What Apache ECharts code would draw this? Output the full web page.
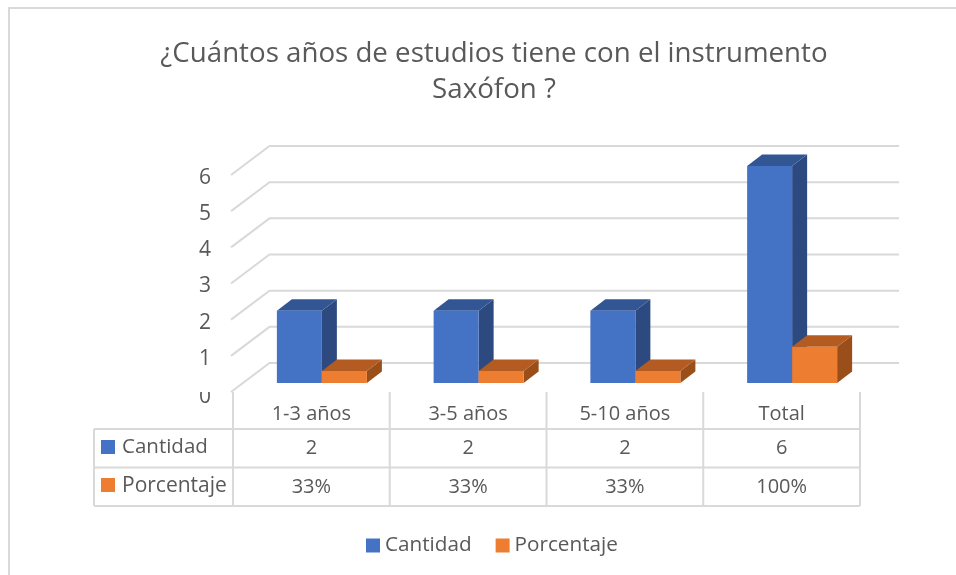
<!DOCTYPE html>
<html>
<head>
<meta charset="utf-8">
<style>html,body{margin:0;background:#fff}#main{width:956px;height:575px}</style>
<script src="https://cdn.jsdelivr.net/npm/echarts@6/dist/echarts.min.js"></script>
</head>
<body>
<div id="main"></div>
<script>
var categories = ['1-3 años', '3-5 años', '5-10 años', 'Total'];
var cantidad = [2, 2, 2, 6];
var porcentaje = [0.33, 0.33, 0.33, 1];
var porcentajeLabels = ['33%', '33%', '33%', '100%'];
var gridValues = [0, 1, 2, 3, 4, 5, 6];

var FONT = '"Open Sans"';
var TEXT = '#595959';
var LINE = '#d9d9d9';
var BLUE = {front: '#4472c4', side: '#2c4a80', top: '#325594'};
var ORANGE = {front: '#ed7d31', side: '#9a4f1a', top: '#b35b20'};

// caida de la pared del fondo respecto al plano del eje
var DEPTH_X = 39, DEPTH_Y = 29;
// desplazamiento de las barras dentro del piso y su profundidad
var BAR_X = 10.5, BAR_Y = 9, BAR_W = 45, BAR_DX = 15, BAR_DY = 11.5;

function poly(points, color) {
  return {type: 'polygon', shape: {points: points}, style: {fill: color}};
}

// barra 3d: cara frontal, cara superior y lateral
function barItem(colors, side) {
  return function (params, api) {
    var i = api.value(0);
    var base = api.coord([i, 0]);
    var top = api.coord([i, api.value(1)]);
    var x0 = base[0] + BAR_X + (side < 0 ? -BAR_W : 0);
    var x1 = x0 + BAR_W;
    var y0 = base[1] - BAR_Y;
    var y1 = top[1] - BAR_Y;
    return {type: 'group', children: [
      poly([[x1, y0], [x1 + BAR_DX, y0 - BAR_DY], [x1 + BAR_DX, y1 - BAR_DY], [x1, y1]], colors.side),
      poly([[x0, y1], [x0 + BAR_DX, y1 - BAR_DY], [x1 + BAR_DX, y1 - BAR_DY], [x1, y1]], colors.top),
      poly([[x0, y0], [x1, y0], [x1, y1], [x0, y1]], colors.front)
    ]};
  };
}

// lineas de la pared: van del plano del eje al fondo y luego a la derecha
function gridItem(params, api) {
  var v = api.value(0);
  var band = api.size([1, 0])[0];
  var left = api.coord([0, v]);
  var right = api.coord([categories.length - 1, v]);
  var x0 = left[0] - band / 2;
  var x1 = right[0] + band / 2;
  return {
    type: 'polyline',
    shape: {points: [[x0 - 2, left[1]], [x0 + DEPTH_X - 2.5, left[1] - DEPTH_Y], [x1 + DEPTH_X, left[1] - DEPTH_Y]]},
    style: {fill: null, stroke: LINE, lineWidth: 2}
  };
}

var ROWS = [429, 467.5, 506];
var TABLE_LEFT = 94, TABLE_TOP = 392;

function cellText(text, x, y, align, size) {
  return {type: 'text', style: {text: text, x: x, y: y, fill: TEXT, font: (size || 20) + 'px ' + FONT, align: align || 'center', verticalAlign: 'middle'}};
}

function hLine(x0, x1, y) {
  return {type: 'line', shape: {x1: x0, y1: y, x2: x1, y2: y}, style: {stroke: LINE, lineWidth: 2}};
}

function vLine(x, y0, y1) {
  return {type: 'line', shape: {x1: x, y1: y0, x2: x, y2: y1}, style: {stroke: LINE, lineWidth: 2}};
}

// tabla de datos debajo del eje
function tableItem(params, api) {
  var band = api.size([1, 0])[0];
  var first = api.coord([0, 0])[0] - band / 2;
  var right = first + band * categories.length;
  var kids = [];
  ROWS.forEach(function (y) { kids.push(hLine(TABLE_LEFT, right, y)); });
  kids.push(vLine(TABLE_LEFT, ROWS[0], ROWS[2]));
  for (var c = 0; c <= categories.length; c++) kids.push(vLine(first + band * c, TABLE_TOP, ROWS[2]));
  categories.forEach(function (name, i) {
    var x = api.coord([i, 0])[0];
    kids.push(cellText(String(cantidad[i]), x, 448));
    kids.push(cellText(porcentajeLabels[i], x, 487));
  });
  kids.push({type: 'rect', shape: {x: 101, y: 440, width: 14, height: 14}, style: {fill: BLUE.front}});
  kids.push({type: 'rect', shape: {x: 101, y: 478, width: 14, height: 14}, style: {fill: ORANGE.front}});
  kids.push(cellText('Cantidad', 122, 447, 'left', 20.5));
  kids.push(cellText('Porcentaje', 122, 486, 'left', 21));
  // la tabla tapa la parte de arriba del 0
  kids.push({type: 'rect', shape: {x: 195, y: 378, width: 30, height: 14}, style: {fill: '#fff'}});
  return {type: 'group', children: kids};
}

var chart = echarts.init(document.getElementById('main'));
chart.setOption({
  animation: false,
  textStyle: {fontFamily: FONT},
  title: {
    text: '¿Cuántos años de estudios tiene con el instrumento\nSaxófon ?',
    left: 489, top: 31, textAlign: 'center',
    textStyle: {fontSize: 27.7, fontWeight: 'normal', color: TEXT, lineHeight: 36, fontFamily: FONT}
  },
  legend: {
    data: ['Cantidad', 'Porcentaje'],
    top: 530, left: 361, itemWidth: 14, itemHeight: 14, itemGap: 24,
    icon: 'rect',
    textStyle: {fontSize: 20.7, color: TEXT, fontFamily: FONT, padding: [4, 0, 0, 0]}
  },
  grid: {left: 233, right: 96, top: 175, height: 217},
  xAxis: {
    type: 'category', data: categories,
    axisLine: {show: false}, axisTick: {show: false},
    axisLabel: {fontSize: 20, color: TEXT, margin: 12, fontFamily: FONT}
  },
  yAxis: {
    type: 'value', min: 0, max: 6, interval: 1,
    axisLine: {show: false}, axisTick: {show: false}, splitLine: {show: false},
    axisLabel: {
      fontSize: 21, color: TEXT, margin: 22, fontFamily: FONT,
      formatter: function (v) { return v === 0 ? '{zero|0}' : '{n|' + v + '}'; },
      rich: {
        zero: {fontSize: 21, color: TEXT, padding: [11, 0, 0, 0]},
        n: {fontSize: 21, color: TEXT, padding: [6, 0, 0, 0]}
      }
    }
  },
  graphic: [{
    type: 'polyline', z: -1, silent: true,
    shape: {points: [[9, 575], [9, 8], [956, 8]]},
    style: {fill: null, stroke: LINE, lineWidth: 2}
  }],
  series: [
    {type: 'custom', name: 'rejilla', renderItem: gridItem, clip: false, z: 1,
     data: gridValues.map(function (v) { return [v]; }), encode: {y: 0}, silent: true},
    {type: 'custom', name: 'tabla', renderItem: tableItem, clip: false, z: 2,
     data: [[0, 0]], silent: true},
    {type: 'custom', name: 'Cantidad', renderItem: barItem(BLUE, -1), clip: false, z: 3,
     itemStyle: {color: BLUE.front}, encode: {x: 0, y: 1},
     data: cantidad.map(function (v, i) { return [i, v]; })},
    {type: 'custom', name: 'Porcentaje', renderItem: barItem(ORANGE, 1), clip: false, z: 4,
     itemStyle: {color: ORANGE.front}, encode: {x: 0, y: 1},
     data: porcentaje.map(function (v, i) { return [i, v]; })}
  ]
});
</script>
</body>
</html>
